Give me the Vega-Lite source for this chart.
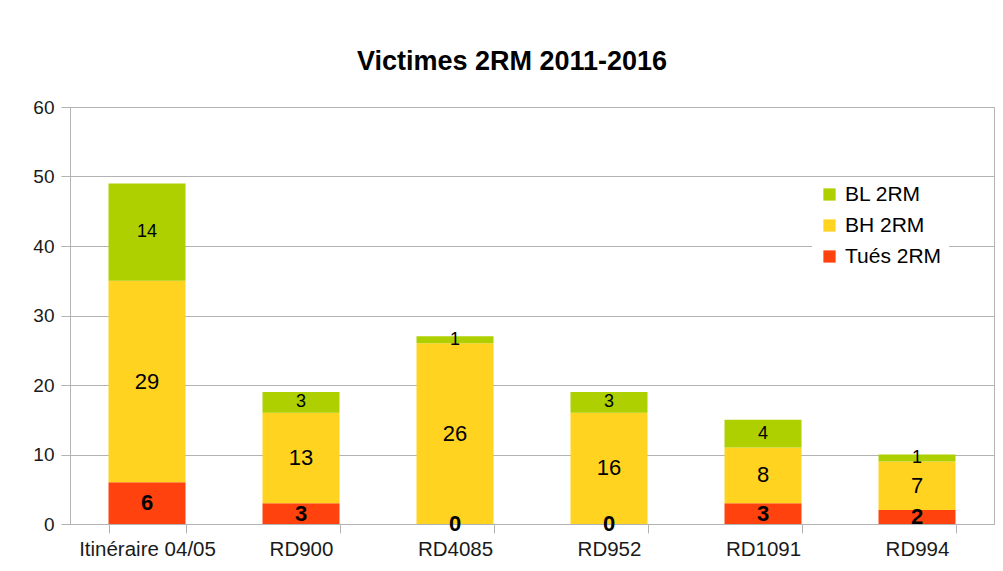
{
  "$schema": "https://vega.github.io/schema/vega-lite/v6.json",
  "autosize": "none",
  "width": 924,
  "height": 417,
  "padding": {"left": 70, "top": 107, "right": 9, "bottom": 47},
  "background": "white",
  "title": {"text": "Victimes 2RM 2011-2016", "font": "Liberation Sans", "fontSize": 27, "fontWeight": "bold", "color": "#000000", "anchor": "middle", "offset": 22, "dx": -20},
  "config": {
    "font": "Liberation Sans",
    "view": {"stroke": "#b3b3b3", "strokeWidth": 1}
  },
  "data": {"values": [
    {"lieu": "Itinéraire 04/05", "serie": "Tués 2RM", "ordre": 1, "n": 6},
    {"lieu": "Itinéraire 04/05", "serie": "BH 2RM", "ordre": 2, "n": 29},
    {"lieu": "Itinéraire 04/05", "serie": "BL 2RM", "ordre": 3, "n": 14},
    {"lieu": "RD900", "serie": "Tués 2RM", "ordre": 1, "n": 3},
    {"lieu": "RD900", "serie": "BH 2RM", "ordre": 2, "n": 13},
    {"lieu": "RD900", "serie": "BL 2RM", "ordre": 3, "n": 3},
    {"lieu": "RD4085", "serie": "Tués 2RM", "ordre": 1, "n": 0},
    {"lieu": "RD4085", "serie": "BH 2RM", "ordre": 2, "n": 26},
    {"lieu": "RD4085", "serie": "BL 2RM", "ordre": 3, "n": 1},
    {"lieu": "RD952", "serie": "Tués 2RM", "ordre": 1, "n": 0},
    {"lieu": "RD952", "serie": "BH 2RM", "ordre": 2, "n": 16},
    {"lieu": "RD952", "serie": "BL 2RM", "ordre": 3, "n": 3},
    {"lieu": "RD1091", "serie": "Tués 2RM", "ordre": 1, "n": 3},
    {"lieu": "RD1091", "serie": "BH 2RM", "ordre": 2, "n": 8},
    {"lieu": "RD1091", "serie": "BL 2RM", "ordre": 3, "n": 4},
    {"lieu": "RD994", "serie": "Tués 2RM", "ordre": 1, "n": 2},
    {"lieu": "RD994", "serie": "BH 2RM", "ordre": 2, "n": 7},
    {"lieu": "RD994", "serie": "BL 2RM", "ordre": 3, "n": 1}
  ]},
  "transform": [
    {"stack": "n", "groupby": ["lieu"], "sort": [{"field": "ordre", "order": "ascending"}], "as": ["y0", "y1"]},
    {"calculate": "(datum.y0 + datum.y1) / 2", "as": "ymid"}
  ],
  "encoding": {
    "x": {
      "field": "lieu", "type": "nominal", "sort": null, "title": null,
      "scale": {"paddingInner": 0.5, "paddingOuter": 0.25},
      "axis": {"labelAngle": 0, "labelFontSize": 20.5, "labelColor": "#1a1a1a", "labelPadding": 6, "domainColor": "#b3b3b3", "tickColor": "#b3b3b3", "tickBand": "extent", "tickSize": 9, "labelFont": "Liberation Sans"}
    }
  },
  "layer": [
    {
      "mark": {"type": "bar"},
      "encoding": {
        "y": {"field": "y0", "type": "quantitative", "scale": {"domain": [0, 60]}, "title": null,
          "axis": {"values": [0, 10, 20, 30, 40, 50, 60], "labelFontSize": 19, "labelColor": "#1a1a1a", "gridColor": "#b3b3b3", "domainColor": "#b3b3b3", "tickColor": "#b3b3b3", "tickSize": 9, "labelPadding": 7, "labelFont": "Liberation Sans"}},
        "y2": {"field": "y1"},
        "color": {
          "field": "serie", "type": "nominal",
          "scale": {"domain": ["BL 2RM", "BH 2RM", "Tués 2RM"], "range": ["#aecf00", "#ffd320", "#ff420e"]},
          "legend": {"title": null, "orient": "none", "legendX": 742, "legendY": 70, "fillColor": "white", "padding": 7, "symbolType": "square", "symbolSize": 150, "symbolStrokeWidth": 0, "labelFontSize": 21, "labelColor": "#000000", "labelFont": "Liberation Sans", "rowPadding": 9, "labelOffset": 5}
        }
      }
    },
    {
      "transform": [{"filter": "datum.serie == 'Tués 2RM'"}],
      "mark": {"type": "text", "fontSize": 22, "fontWeight": "bold", "color": "#000000", "baseline": "middle"},
      "encoding": {"y": {"field": "ymid", "type": "quantitative"}, "text": {"field": "n", "type": "quantitative"}}
    },
    {
      "transform": [{"filter": "datum.serie == 'BH 2RM'"}],
      "mark": {"type": "text", "fontSize": 22, "color": "#000000", "baseline": "middle"},
      "encoding": {"y": {"field": "ymid", "type": "quantitative"}, "text": {"field": "n", "type": "quantitative"}}
    },
    {
      "transform": [{"filter": "datum.serie == 'BL 2RM'"}],
      "mark": {"type": "text", "fontSize": 18, "color": "#000000", "baseline": "middle"},
      "encoding": {"y": {"field": "ymid", "type": "quantitative"}, "text": {"field": "n", "type": "quantitative"}}
    }
  ]
}
